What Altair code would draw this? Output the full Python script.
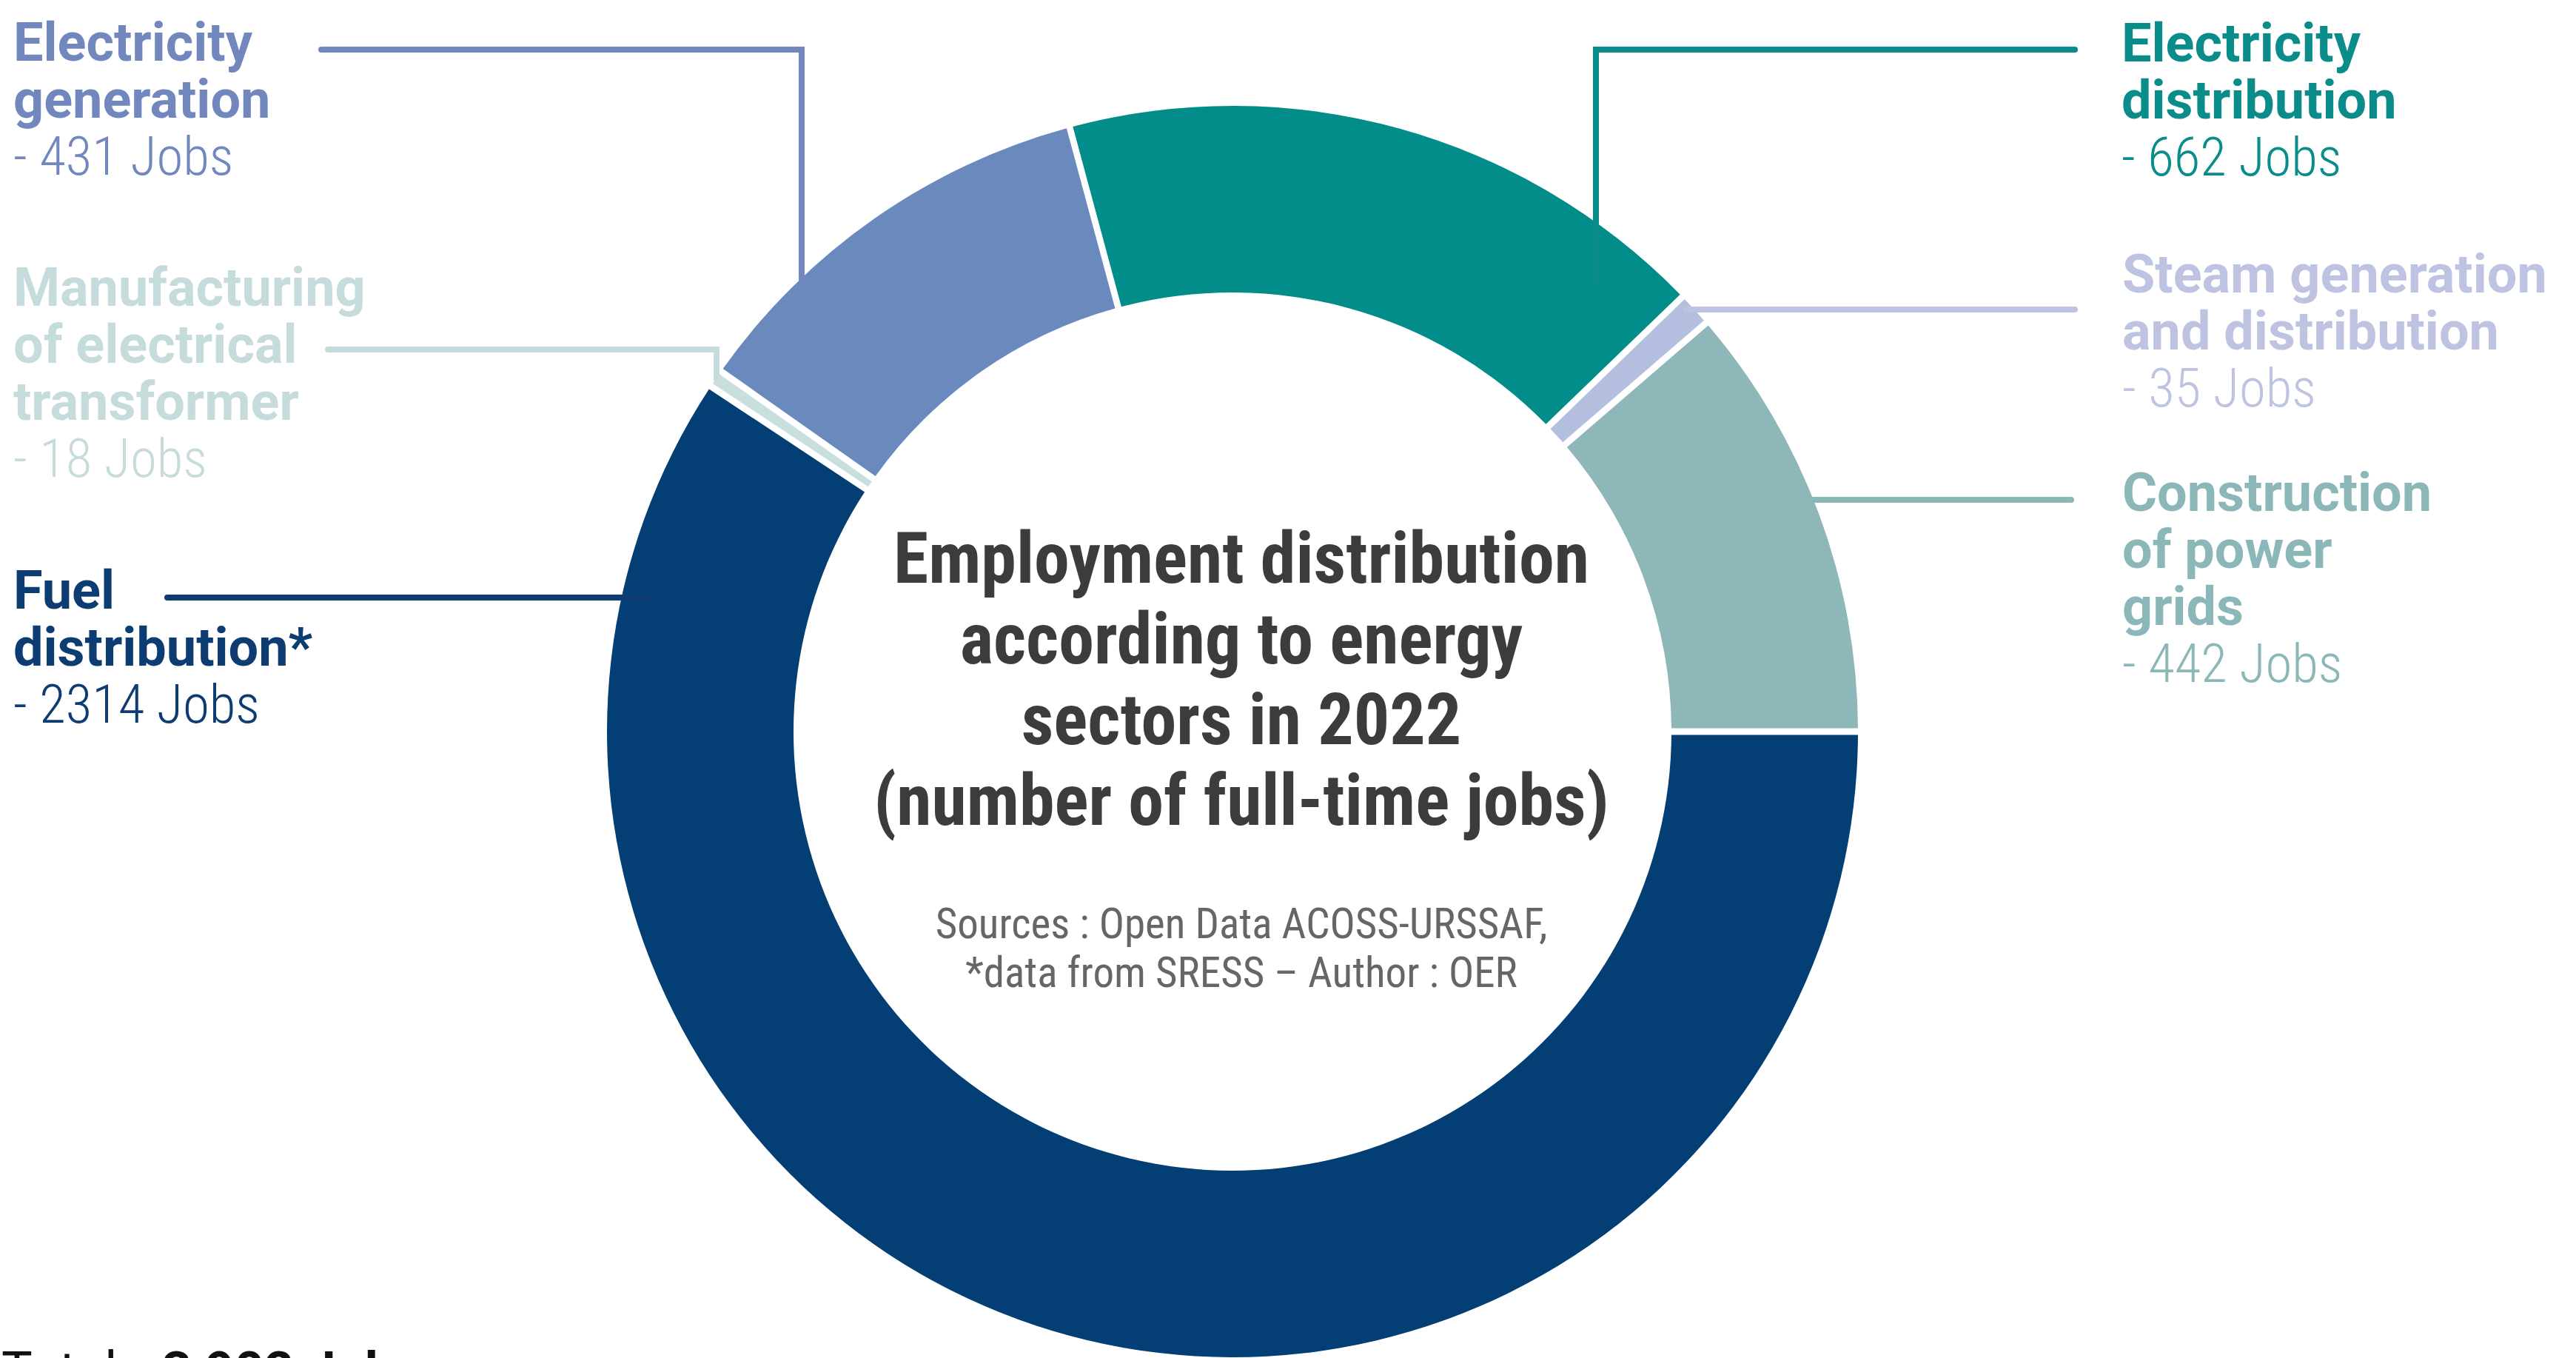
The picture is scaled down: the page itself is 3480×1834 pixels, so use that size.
import math
import altair as alt
import pandas as pd

# ---------------- data ----------------
categories = [
    "Fuel distribution*",
    "Manufacturing of electrical transformer",
    "Electricity generation",
    "Electricity distribution",
    "Steam generation and distribution",
    "Construction of power grids",
]
jobs = [2314, 18, 431, 662, 35, 442]
name_lines = [
    ["Fuel", "distribution*"],
    ["Manufacturing", "of electrical", "transformer"],
    ["Electricity", "generation"],
    ["Electricity", "distribution"],
    ["Steam generation", "and distribution"],
    ["Construction", "of power", "grids"],
]
title_lines = [
    "Employment distribution",
    "according to energy",
    "sectors in 2022",
    "(number of full-time jobs)",
]
source_lines = [
    "Sources : Open Data ACOSS-URSSAF,",
    "*data from SRESS \u2013 Author : OER",
]
total_prefix = "Total : "

# ---------------- styles ----------------
slice_colors = ["#033E74", "#C9DEDF", "#6A8ABD", "#028D8B", "#B4BFDF", "#8DB7B9"]
text_colors = ["#0C3C72", "#C6DBDC", "#7387BF", "#0A8C8A", "#BDC3E0", "#8BB7B9"]
COND = "Roboto Condensed"

W, H = 3480, 1834
CX, CY = 1665, 988
R_OUT, R_IN = 845, 593

# ---------------- layout (annotation positions) ----------------
label_anchor = {
    categories[0]: (18, 822),
    categories[1]: (18, 413),
    categories[2]: (18, 82),
    categories[3]: (2866, 83),
    categories[4]: (2867, 395),
    categories[5]: (2867, 690),
}
LINE_STEP = 77
leader_paths = {
    categories[0]: [(226, 807), (876, 807)],
    categories[1]: [(443, 472), (968, 472), (968, 512)],
    categories[2]: [(434, 67), (1083, 67), (1083, 382)],
    categories[3]: [(2156, 379), (2156, 67), (2803, 67)],
    categories[4]: [(2278, 418), (2803, 418)],
    categories[5]: [(2445, 675), (2798, 675)],
}
TITLE_X = 1677
title_base, title_step = 787, 109
source_base, source_step = 1267, 66

# ---------------- tables ----------------
slices = pd.DataFrame({"cat": categories, "jobs": jobs, "ord": list(range(len(categories)))})

name_rows, jobs_rows = [], []
for cat, v, lines in zip(categories, jobs, name_lines):
    x0, y0 = label_anchor[cat]
    name_rows.append({"cat": cat, "txt": list(lines), "px": x0, "py": y0})
    jobs_rows.append({"cat": cat, "txt": f"- {v} Jobs", "px": x0, "py": y0 + len(lines) * LINE_STEP})
names_df = pd.DataFrame(name_rows)
jobs_df = pd.DataFrame(jobs_rows)

lead_rows = []
for cat in categories:
    for k, (x, y) in enumerate(leader_paths[cat]):
        lead_rows.append({"cat": cat, "k": k, "px": x, "py": y})
lead_df = pd.DataFrame(lead_rows)

title_df = pd.DataFrame({"txt": [title_lines], "px": [TITLE_X], "py": [title_base]})
source_df = pd.DataFrame({"txt": [source_lines], "px": [TITLE_X], "py": [source_base]})
total = sum(jobs)
total_txt = f"{total:,}".replace(",", " ") + " Jobs"
total_a = pd.DataFrame({"txt": [total_prefix], "px": [2], "py": [1875]})
total_b = pd.DataFrame({"txt": [total_txt], "px": [219], "py": [1875]})

# ---------------- scales ----------------
xs = alt.Scale(domain=[0, W], nice=False, zero=False)
ys = alt.Scale(domain=[0, H], nice=False, zero=False, reverse=True)
X = alt.X("px:Q", scale=xs, axis=None)
Y = alt.Y("py:Q", scale=ys, axis=None)
text_color = alt.Color("cat:N", scale=alt.Scale(domain=categories, range=text_colors), legend=None)

arcs = alt.Chart(slices).mark_arc(
    outerRadius=R_OUT, innerRadius=R_IN, padAngle=0.0085
).encode(
    theta=alt.Theta("jobs:Q", stack=True,
                    scale=alt.Scale(range=[math.pi / 2, math.pi / 2 + 2 * math.pi])),
    order=alt.Order("ord:Q"),
    color=alt.Color("cat:N", scale=alt.Scale(domain=categories, range=slice_colors), legend=None),
    x=alt.value(CX),
    y=alt.value(CY),
)

leaders = alt.Chart(lead_df).mark_line(strokeWidth=8, strokeCap="round", strokeJoin="miter").encode(
    x=X, y=Y, color=text_color, detail="cat:N", order="k:Q"
)

names = alt.Chart(names_df).mark_text(
    font="Roboto", fontWeight="bold", fontSize=72, align="left", baseline="alphabetic",
    lineHeight=LINE_STEP
).encode(x=X, y=Y, text="txt", color=text_color)

jobs_txt = alt.Chart(jobs_df).mark_text(
    font=COND, fontWeight=300, fontSize=73, align="left", baseline="alphabetic"
).encode(x=X, y=Y, text="txt:N", color=text_color)

title = alt.Chart(title_df).mark_text(
    font=COND, fontWeight="bold", fontSize=96, align="center",
    baseline="alphabetic", color="#3C3C3C", lineHeight=title_step
).encode(x=X, y=Y, text="txt")

sources = alt.Chart(source_df).mark_text(
    font=COND, fontSize=57, align="center", baseline="alphabetic",
    color="#666666", lineHeight=source_step
).encode(x=X, y=Y, text="txt")

total_1 = alt.Chart(total_a).mark_text(
    font="Roboto", fontSize=70, align="left", baseline="alphabetic", color="#111111"
).encode(x=X, y=Y, text="txt:N")
total_2 = alt.Chart(total_b).mark_text(
    font="Roboto", fontWeight="bold", fontSize=70, align="left", baseline="alphabetic",
    color="#111111"
).encode(x=X, y=Y, text="txt:N")

chart = alt.layer(arcs, leaders, names, jobs_txt, title, sources, total_1, total_2).resolve_scale(
    color="independent"
).properties(
    width=W, height=H, padding=0, autosize=alt.AutoSizeParams(type="none"), background="white"
).configure_view(stroke=None)

chart.save("out.html", embed_options={"renderer": "svg", "actions": False})
